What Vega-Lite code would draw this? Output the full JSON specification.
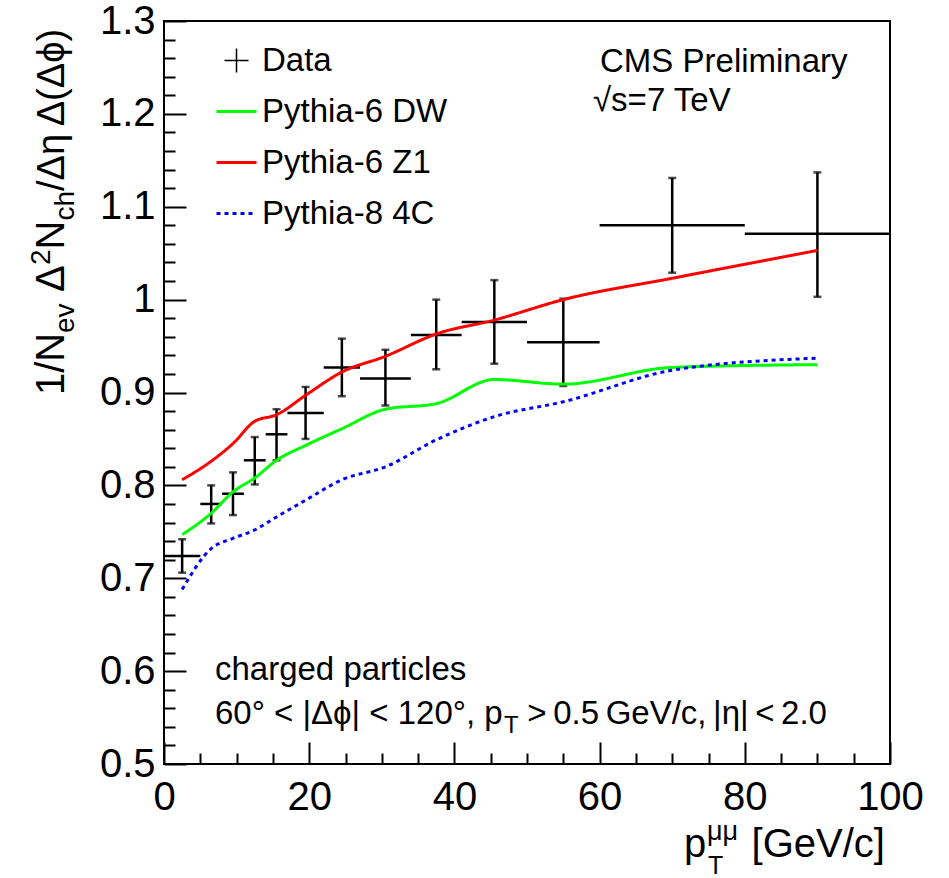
{
  "$schema": "https://vega.github.io/schema/vega-lite/v6.json",
  "width": 726,
  "height": 743,
  "autosize": "none",
  "padding": {"left": 164, "top": 21, "right": 59, "bottom": 114},
  "background": "white",
  "config": {
    "view": {"stroke": "black", "strokeWidth": 2},
    "font": "Liberation Sans",
    "text": {"font": "Liberation Sans", "color": "black"}
  },
  "datasets": {
    "points": [
      {"x": 2.5, "xlo": 0, "xhi": 5, "y": 0.724, "ylo": 0.706, "yhi": 0.742},
      {"x": 6.5, "xlo": 5, "xhi": 8, "y": 0.780, "ylo": 0.759, "yhi": 0.800},
      {"x": 9.5, "xlo": 8, "xhi": 11, "y": 0.791, "ylo": 0.768, "yhi": 0.814},
      {"x": 12.5, "xlo": 11, "xhi": 14, "y": 0.827, "ylo": 0.801, "yhi": 0.852},
      {"x": 15.5, "xlo": 14, "xhi": 17, "y": 0.855, "ylo": 0.827, "yhi": 0.882},
      {"x": 19.5, "xlo": 17, "xhi": 22, "y": 0.878, "ylo": 0.850, "yhi": 0.906},
      {"x": 24.5, "xlo": 22, "xhi": 27, "y": 0.927, "ylo": 0.896, "yhi": 0.958},
      {"x": 30.5, "xlo": 27, "xhi": 34, "y": 0.915, "ylo": 0.886, "yhi": 0.946},
      {"x": 37.5, "xlo": 34, "xhi": 41, "y": 0.962, "ylo": 0.925, "yhi": 1.000},
      {"x": 45.5, "xlo": 41, "xhi": 50, "y": 0.976, "ylo": 0.931, "yhi": 1.021},
      {"x": 55, "xlo": 50, "xhi": 60, "y": 0.954, "ylo": 0.907, "yhi": 1.001},
      {"x": 70, "xlo": 60, "xhi": 80, "y": 1.080, "ylo": 1.029, "yhi": 1.131},
      {"x": 90, "xlo": 80, "xhi": 100, "y": 1.071, "ylo": 1.003, "yhi": 1.137}
    ],
    "curves": [
      {"series": "Pythia-6 DW", "x": 2.5, "y": 0.747},
      {"series": "Pythia-6 DW", "x": 6.5, "y": 0.770},
      {"series": "Pythia-6 DW", "x": 9.5, "y": 0.793},
      {"series": "Pythia-6 DW", "x": 12.5, "y": 0.808},
      {"series": "Pythia-6 DW", "x": 15.5, "y": 0.827},
      {"series": "Pythia-6 DW", "x": 19.5, "y": 0.843},
      {"series": "Pythia-6 DW", "x": 24.5, "y": 0.861},
      {"series": "Pythia-6 DW", "x": 30.5, "y": 0.882},
      {"series": "Pythia-6 DW", "x": 37.5, "y": 0.888},
      {"series": "Pythia-6 DW", "x": 45.5, "y": 0.914},
      {"series": "Pythia-6 DW", "x": 55, "y": 0.909},
      {"series": "Pythia-6 DW", "x": 70, "y": 0.927},
      {"series": "Pythia-6 DW", "x": 90, "y": 0.930},
      {"series": "Pythia-6 Z1", "x": 2.5, "y": 0.806},
      {"series": "Pythia-6 Z1", "x": 6.5, "y": 0.826},
      {"series": "Pythia-6 Z1", "x": 9.5, "y": 0.845},
      {"series": "Pythia-6 Z1", "x": 12.5, "y": 0.869},
      {"series": "Pythia-6 Z1", "x": 15.5, "y": 0.876},
      {"series": "Pythia-6 Z1", "x": 19.5, "y": 0.897},
      {"series": "Pythia-6 Z1", "x": 24.5, "y": 0.922},
      {"series": "Pythia-6 Z1", "x": 30.5, "y": 0.939},
      {"series": "Pythia-6 Z1", "x": 37.5, "y": 0.963},
      {"series": "Pythia-6 Z1", "x": 45.5, "y": 0.978},
      {"series": "Pythia-6 Z1", "x": 55, "y": 1.000},
      {"series": "Pythia-6 Z1", "x": 70, "y": 1.023},
      {"series": "Pythia-6 Z1", "x": 90, "y": 1.053},
      {"series": "Pythia-8 4C", "x": 2.5, "y": 0.688},
      {"series": "Pythia-8 4C", "x": 6.5, "y": 0.732},
      {"series": "Pythia-8 4C", "x": 9.5, "y": 0.743},
      {"series": "Pythia-8 4C", "x": 12.5, "y": 0.752},
      {"series": "Pythia-8 4C", "x": 15.5, "y": 0.766},
      {"series": "Pythia-8 4C", "x": 19.5, "y": 0.784},
      {"series": "Pythia-8 4C", "x": 24.5, "y": 0.806},
      {"series": "Pythia-8 4C", "x": 30.5, "y": 0.820},
      {"series": "Pythia-8 4C", "x": 37.5, "y": 0.849},
      {"series": "Pythia-8 4C", "x": 45.5, "y": 0.874},
      {"series": "Pythia-8 4C", "x": 55, "y": 0.890},
      {"series": "Pythia-8 4C", "x": 70, "y": 0.924},
      {"series": "Pythia-8 4C", "x": 90, "y": 0.937}
    ]
  },
  "layer": [
    {
      "data": {"name": "points"},
      "mark": {"type": "rule", "color": "black", "strokeWidth": 2.5},
      "encoding": {
        "x": {"field": "xlo", "type": "quantitative", "scale": {"domain": [0, 100], "nice": false, "zero": false},
          "axis": {"orient": "bottom", "values": [0, 20, 40, 60, 80, 100], "tickSize": -22, "tickWidth": 2, "tickColor": "black", "domain": false, "grid": false, "labelFontSize": 40, "labelFont": "Liberation Sans", "labelColor": "black", "labelPadding": 35, "labelFlush": false, "labelOverlap": false, "title": null, "format": "d"}},
        "x2": {"field": "xhi"},
        "y": {"field": "y", "type": "quantitative", "scale": {"domain": [0.5, 1.3], "nice": false, "zero": false},
          "axis": {"orient": "left", "values": [0.5, 0.6, 0.7, 0.8, 0.9, 1.0, 1.1, 1.2, 1.3], "tickSize": -22, "tickWidth": 2, "tickColor": "black", "domain": false, "grid": false, "labelFontSize": 40, "labelFont": "Liberation Sans", "labelColor": "black", "labelPadding": 31, "labelOverlap": false, "title": null, "format": ".1~f"}}
      }
    },
    {
      "data": {"name": "points"},
      "mark": {"type": "rule", "color": "black", "strokeWidth": 2.5},
      "encoding": {
        "x": {"field": "x", "type": "quantitative", "scale": {"domain": [0, 100], "nice": false, "zero": false},
          "axis": {"orient": "bottom", "values": [5, 10, 15, 25, 30, 35, 45, 50, 55, 65, 70, 75, 85, 90, 95], "tickSize": -11, "tickWidth": 2, "tickColor": "black", "domain": false, "grid": false, "labels": false, "title": null}},
        "y": {"field": "ylo", "type": "quantitative", "scale": {"domain": [0.5, 1.3], "nice": false, "zero": false},
          "axis": {"orient": "left", "values": [0.52, 0.54, 0.56, 0.58, 0.62, 0.64, 0.66, 0.68, 0.72, 0.74, 0.76, 0.78, 0.82, 0.84, 0.86, 0.88, 0.92, 0.94, 0.96, 0.98, 1.02, 1.04, 1.06, 1.08, 1.12, 1.14, 1.16, 1.18, 1.22, 1.24, 1.26, 1.28], "tickSize": -11, "tickWidth": 2, "tickColor": "black", "domain": false, "grid": false, "labels": false, "title": null}},
        "y2": {"field": "yhi"}
      }
    },
    {
      "data": {"name": "points"},
      "mark": {"type": "tick", "orient": "horizontal", "size": 8, "thickness": 2.5, "color": "black"},
      "encoding": {
        "x": {"field": "x", "type": "quantitative", "scale": {"domain": [0, 100]}, "axis": null},
        "y": {"field": "yhi", "type": "quantitative", "scale": {"domain": [0.5, 1.3]}, "axis": null}
      }
    },
    {
      "data": {"name": "points"},
      "mark": {"type": "tick", "orient": "horizontal", "size": 8, "thickness": 2.5, "color": "black"},
      "encoding": {
        "x": {"field": "x", "type": "quantitative", "scale": {"domain": [0, 100]}, "axis": null},
        "y": {"field": "ylo", "type": "quantitative", "scale": {"domain": [0.5, 1.3]}, "axis": null}
      }
    },
    {
      "data": {"name": "curves"},
      "mark": {"type": "line", "strokeWidth": 3, "interpolate": "monotone"},
      "encoding": {
        "x": {"field": "x", "type": "quantitative", "scale": {"domain": [0, 100]}, "axis": null},
        "y": {"field": "y", "type": "quantitative", "scale": {"domain": [0.5, 1.3]}, "axis": null},
        "color": {
          "field": "series", "type": "nominal",
          "scale": {"domain": ["Data", "Pythia-6 DW", "Pythia-6 Z1", "Pythia-8 4C"], "range": ["#000000", "#00ff00", "#ff0000", "#0000ff"]},
          "legend": {
            "orient": "none", "legendX": 56, "legendY": 23, "title": null, "padding": 0,
            "symbolType": "stroke", "symbolSize": 1600, "symbolStrokeWidth": 3,
            "labelFontSize": 33, "labelFont": "Liberation Sans", "labelColor": "black", "labelOffset": 9, "labelLimit": 500,
            "rowPadding": 17,
            "encode": {"symbols": {"update": {
              "shape": {"signal": "datum.value === 'Data' ? 'M-0.6,0H0.6M0,-0.6V0.6' : 'stroke'"},
              "strokeWidth": {"signal": "datum.value === 'Data' ? 1.5 : 3"},
              "strokeDash": {"signal": "datum.value === 'Pythia-8 4C' ? [4,4] : [1,0]"}
            }}}
          }
        },
        "strokeDash": {"condition": {"test": "datum.series === 'Pythia-8 4C'", "value": [4, 4]}, "value": [1, 0]}
      }
    },
    {
      "data": {"values": [{}]},
      "mark": {"type": "text", "fontSize": 33, "align": "left", "baseline": "alphabetic"},
      "encoding": {"x": {"datum": 60.06, "type": "quantitative", "scale": {"domain": [0, 100]}, "axis": null}, "y": {"datum": 1.2451, "type": "quantitative", "scale": {"domain": [0.5, 1.3]}, "axis": null}, "text": {"value": "CMS Preliminary"}}
    },
    {
      "data": {"values": [{}]},
      "mark": {"type": "text", "fontSize": 33, "align": "left", "baseline": "alphabetic"},
      "encoding": {"x": {"datum": 59.09, "type": "quantitative", "scale": {"domain": [0, 100]}, "axis": null}, "y": {"datum": 1.203, "type": "quantitative", "scale": {"domain": [0.5, 1.3]}, "axis": null}, "text": {"value": "√s=7 TeV"}}
    },
    {
      "data": {"values": [{}]},
      "mark": {"type": "text", "fontSize": 33, "align": "left", "baseline": "alphabetic"},
      "encoding": {"x": {"datum": 7.02, "type": "quantitative", "scale": {"domain": [0, 100]}, "axis": null}, "y": {"datum": 0.5904, "type": "quantitative", "scale": {"domain": [0.5, 1.3]}, "axis": null}, "text": {"value": "charged particles"}}
    },
    {
      "data": {"values": [{}]},
      "mark": {"type": "text", "fontSize": 33, "align": "left", "baseline": "alphabetic"},
      "encoding": {"x": {"datum": 7.02, "type": "quantitative", "scale": {"domain": [0, 100]}, "axis": null}, "y": {"datum": 0.5431, "type": "quantitative", "scale": {"domain": [0.5, 1.3]}, "axis": null}, "text": {"value": "60° < |Δϕ| < 120°, p"}}
    },
    {
      "data": {"values": [{}]},
      "mark": {"type": "text", "fontSize": 24, "align": "left", "baseline": "alphabetic", "dy": 9},
      "encoding": {"x": {"datum": 46.83, "type": "quantitative", "scale": {"domain": [0, 100]}, "axis": null}, "y": {"datum": 0.5431, "type": "quantitative", "scale": {"domain": [0.5, 1.3]}, "axis": null}, "text": {"value": "T"}}
    },
    {
      "data": {"values": [{}]},
      "mark": {"type": "text", "fontSize": 33, "align": "right", "baseline": "alphabetic"},
      "encoding": {"x": {"datum": 91.32, "type": "quantitative", "scale": {"domain": [0, 100]}, "axis": null}, "y": {"datum": 0.5431, "type": "quantitative", "scale": {"domain": [0.5, 1.3]}, "axis": null}, "text": {"value": ">\u20090.5\u2009GeV/c,\u2009|η|\u2009<\u20092.0"}}
    },
    {
      "data": {"values": [{}]},
      "mark": {"type": "text", "fontSize": 40, "align": "left", "baseline": "alphabetic"},
      "encoding": {"x": {"datum": 71.63, "type": "quantitative", "scale": {"domain": [0, 100]}, "axis": null}, "y": {"datum": 0.3999, "type": "quantitative", "scale": {"domain": [0.5, 1.3]}, "axis": null}, "text": {"value": "p"}}
    },
    {
      "data": {"values": [{}]},
      "mark": {"type": "text", "fontSize": 27, "align": "left", "baseline": "alphabetic", "dy": -17},
      "encoding": {"x": {"datum": 74.79, "type": "quantitative", "scale": {"domain": [0, 100]}, "axis": null}, "y": {"datum": 0.3999, "type": "quantitative", "scale": {"domain": [0.5, 1.3]}, "axis": null}, "text": {"value": "μμ"}}
    },
    {
      "data": {"values": [{}]},
      "mark": {"type": "text", "fontSize": 25, "align": "left", "baseline": "alphabetic", "dy": 17},
      "encoding": {"x": {"datum": 74.93, "type": "quantitative", "scale": {"domain": [0, 100]}, "axis": null}, "y": {"datum": 0.3999, "type": "quantitative", "scale": {"domain": [0.5, 1.3]}, "axis": null}, "text": {"value": "T"}}
    },
    {
      "data": {"values": [{}]},
      "mark": {"type": "text", "fontSize": 40, "align": "right", "baseline": "alphabetic"},
      "encoding": {"x": {"datum": 99.31, "type": "quantitative", "scale": {"domain": [0, 100]}, "axis": null}, "y": {"datum": 0.3999, "type": "quantitative", "scale": {"domain": [0.5, 1.3]}, "axis": null}, "text": {"value": "[GeV/c]"}}
    },
    {
      "data": {"values": [{}]},
      "mark": {"type": "text", "fontSize": 40, "align": "left", "baseline": "alphabetic", "angle": 270},
      "encoding": {"x": {"datum": -13.77, "type": "quantitative", "scale": {"domain": [0, 100]}, "axis": null}, "y": {"datum": 0.8973, "type": "quantitative", "scale": {"domain": [0.5, 1.3]}, "axis": null}, "text": {"value": "1/N"}}
    },
    {
      "data": {"values": [{}]},
      "mark": {"type": "text", "fontSize": 28, "align": "left", "baseline": "alphabetic", "angle": 270, "dy": 10},
      "encoding": {"x": {"datum": -13.77, "type": "quantitative", "scale": {"domain": [0, 100]}, "axis": null}, "y": {"datum": 0.9641, "type": "quantitative", "scale": {"domain": [0.5, 1.3]}, "axis": null}, "text": {"value": "ev"}}
    },
    {
      "data": {"values": [{}]},
      "mark": {"type": "text", "fontSize": 40, "align": "left", "baseline": "alphabetic", "angle": 270},
      "encoding": {"x": {"datum": -13.77, "type": "quantitative", "scale": {"domain": [0, 100]}, "axis": null}, "y": {"datum": 1.0082, "type": "quantitative", "scale": {"domain": [0.5, 1.3]}, "axis": null}, "text": {"value": "Δ"}}
    },
    {
      "data": {"values": [{}]},
      "mark": {"type": "text", "fontSize": 28, "align": "left", "baseline": "alphabetic", "angle": 270, "dy": -14},
      "encoding": {"x": {"datum": -13.77, "type": "quantitative", "scale": {"domain": [0, 100]}, "axis": null}, "y": {"datum": 1.0373, "type": "quantitative", "scale": {"domain": [0.5, 1.3]}, "axis": null}, "text": {"value": "2"}}
    },
    {
      "data": {"values": [{}]},
      "mark": {"type": "text", "fontSize": 40, "align": "left", "baseline": "alphabetic", "angle": 270},
      "encoding": {"x": {"datum": -13.77, "type": "quantitative", "scale": {"domain": [0, 100]}, "axis": null}, "y": {"datum": 1.054, "type": "quantitative", "scale": {"domain": [0.5, 1.3]}, "axis": null}, "text": {"value": "N"}}
    },
    {
      "data": {"values": [{}]},
      "mark": {"type": "text", "fontSize": 28, "align": "left", "baseline": "alphabetic", "angle": 270, "dy": 10},
      "encoding": {"x": {"datum": -13.77, "type": "quantitative", "scale": {"domain": [0, 100]}, "axis": null}, "y": {"datum": 1.0851, "type": "quantitative", "scale": {"domain": [0.5, 1.3]}, "axis": null}, "text": {"value": "ch"}}
    },
    {
      "data": {"values": [{}]},
      "mark": {"type": "text", "fontSize": 38, "align": "left", "baseline": "alphabetic", "angle": 270},
      "encoding": {"x": {"datum": -13.77, "type": "quantitative", "scale": {"domain": [0, 100]}, "axis": null}, "y": {"datum": 1.117, "type": "quantitative", "scale": {"domain": [0.5, 1.3]}, "axis": null}, "text": {"value": "/Δη\u2009Δ(Δϕ)"}}
    }
  ],
  "resolve": {"axis": {"x": "independent", "y": "independent"}}
}
